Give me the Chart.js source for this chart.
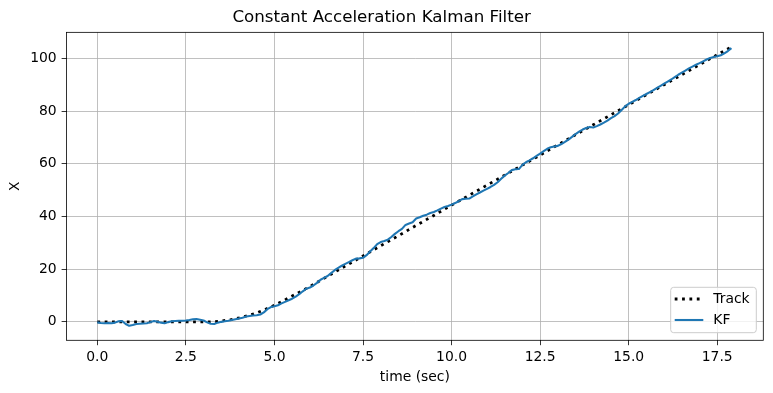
<!DOCTYPE html>
<html>
<head>
<meta charset="utf-8">
<script src="https://cdn.jsdelivr.net/npm/chart.js@4/dist/chart.umd.min.js"></script>
<style>
  html, body { margin: 0; padding: 0; background: #ffffff; }
  #wrap { width: 773px; height: 393px; position: relative; }
</style>
</head>
<body>
<div id="wrap"><canvas id="c" width="773" height="393"></canvas></div>
<script>
// ---- data ----
const titleText = 'Constant Acceleration Kalman Filter';
const xAxisLabel = 'time (sec)';
const yAxisLabel = 'X';
const seriesNames = ['Track', 'KF'];

const xTicks = [0, 2.5, 5, 7.5, 10, 12.5, 15, 17.5];
const yTicks = [0, 20, 40, 60, 80, 100];

const trackTime = [0, 0.5, 1, 1.5, 2, 2.5, 3, 3.25, 3.5, 3.75, 4, 4.25, 4.5, 4.75, 5, 5.25, 5.5, 5.75, 6,
  6.5, 7, 7.5, 8, 8.5, 9, 9.5, 10, 10.5, 11, 11.5, 12, 12.5, 13, 13.5, 14, 14.5, 15, 15.5, 16, 16.5, 17, 17.5, 17.9];
const trackX = [0, 0, 0, 0, 0, 0, 0, 0, 0.3, 0.8, 1.5, 2.4, 3.4, 4.8, 6.3, 8.0, 9.8, 11.6, 13.4,
  17.3, 21.2, 25.0, 28.9, 32.7, 36.6, 40.4, 44.3, 48.1, 51.9, 55.7, 59.5, 63.3, 67.2, 71.0, 74.8, 78.6, 82.4, 86.2, 90.0, 93.8, 97.6, 101.4, 104.4];

const kfTime = [
  0.0, 0.1, 0.2, 0.3, 0.4, 0.5, 0.6, 0.7, 0.8, 0.9,
  1.0, 1.1, 1.2, 1.3, 1.4, 1.5, 1.6, 1.7, 1.8, 1.9,
  2.0, 2.1, 2.2, 2.3, 2.4, 2.5, 2.6, 2.7, 2.8, 2.9,
  3.0, 3.1, 3.2, 3.3, 3.4, 3.5, 3.6, 3.7, 3.8, 3.9,
  4.0, 4.1, 4.2, 4.3, 4.4, 4.5, 4.6, 4.7, 4.8, 4.9,
  5.0, 5.1, 5.2, 5.3, 5.4, 5.5, 5.6, 5.7, 5.8, 5.9,
  6.0, 6.1, 6.2, 6.3, 6.4, 6.5, 6.6, 6.7, 6.8, 6.9,
  7.0, 7.1, 7.2, 7.3, 7.4, 7.5, 7.6, 7.7, 7.8, 7.9,
  8.0, 8.1, 8.2, 8.3, 8.4, 8.5, 8.6, 8.7, 8.8, 8.9,
  9.0, 9.1, 9.2, 9.3, 9.4, 9.5, 9.6, 9.7, 9.8, 9.9,
  10.0, 10.1, 10.2, 10.3, 10.4, 10.5, 10.6, 10.7, 10.8, 10.9,
  11.0, 11.1, 11.2, 11.3, 11.4, 11.5, 11.6, 11.7, 11.8, 11.9,
  12.0, 12.1, 12.2, 12.3, 12.4, 12.5, 12.6, 12.7, 12.8, 12.9,
  13.0, 13.1, 13.2, 13.3, 13.4, 13.5, 13.6, 13.7, 13.8, 13.9,
  14.0, 14.1, 14.2, 14.3, 14.4, 14.5, 14.6, 14.7, 14.8, 14.9,
  15.0, 15.1, 15.2, 15.3, 15.4, 15.5, 15.6, 15.7, 15.8, 15.9,
  16.0, 16.1, 16.2, 16.3, 16.4, 16.5, 16.6, 16.7, 16.8, 16.9,
  17.0, 17.1, 17.2, 17.3, 17.4, 17.5, 17.6, 17.7, 17.8, 17.9
];
const kfX = [
  -0.2, -0.4, -0.5, -0.4, -0.5, -0.3, 0.2, 0.3, -0.8, -1.5,
  -1.2, -0.8, -0.7, -0.6, -0.5, -0.1, 0.3, 0.0, -0.3, -0.5,
  -0.1, 0.2, 0.3, 0.4, 0.4, 0.5, 0.7, 1.0, 1.1, 0.8,
  0.5, -0.2, -0.7, -0.8, -0.3, 0.0, 0.2, 0.4, 0.7, 1.0,
  1.3, 1.6, 2.0, 2.2, 2.4, 2.5, 2.8, 3.6, 4.8, 5.6,
  5.9, 6.3, 7.0, 7.6, 8.2, 8.8, 9.6, 10.5, 11.6, 12.6,
  13.0, 13.8, 14.8, 16.0, 16.7, 17.4, 18.5, 19.6, 20.5, 21.3,
  22.0, 22.7, 23.4, 24.0, 24.1, 24.3, 25.3, 26.7, 28.0, 29.5,
  30.3, 30.7, 31.2, 32.2, 33.4, 34.4, 35.3, 36.8, 37.3, 37.8,
  39.2, 39.7, 40.3, 40.7, 41.3, 41.7, 42.3, 43.0, 43.6, 44.0,
  44.5, 45.1, 45.8, 46.6, 46.7, 46.8, 47.6, 48.4, 49.1, 49.8,
  50.5, 51.2, 52.0, 53.0, 54.3, 55.5, 56.5, 57.6, 57.9, 58.0,
  59.6, 60.6, 61.3, 62.1, 63.0, 63.9, 64.8, 65.7, 66.3, 66.6,
  66.8, 67.5, 68.3, 69.2, 70.2, 71.3, 72.2, 73.0, 73.6, 74.0,
  73.8, 74.3, 74.9, 75.6, 76.4, 77.3, 78.1, 79.1, 80.4, 81.8,
  82.8, 83.5, 84.2, 85.0, 85.8, 86.5, 87.2, 88.0, 88.8, 89.6,
  90.4, 91.2, 92.0, 92.9, 93.8, 94.6, 95.4, 96.2, 96.9, 97.6,
  98.2, 98.9, 99.6, 100.2, 100.5, 100.8, 101.2, 101.9, 102.8, 103.9
];

// ---- styling ----
const FONT = "'DejaVu Sans', 'Liberation Sans', sans-serif";
const TICK_PX = 13.9;
const TRACK_LW = 2.78;
const KF_LW = 2.08;
const KF_COLOR = '#1f77b4';

const frameLegendPlugin = {
  id: 'frameLegend',
  afterDraw(chart) {
    const ctx = chart.ctx;
    const a = chart.chartArea;
    ctx.save();
    // axes frame
    ctx.strokeStyle = '#000';
    ctx.lineWidth = 0.8;
    ctx.strokeRect(a.left, a.top, a.right - a.left, a.bottom - a.top);
    // legend box
    const bw = 85.6, bh = 45.4;
    const bx = a.right - 7 - bw, by = a.bottom - 7.6 - bh;
    const r = 3;
    ctx.beginPath();
    ctx.moveTo(bx + r, by);
    ctx.lineTo(bx + bw - r, by);
    ctx.quadraticCurveTo(bx + bw, by, bx + bw, by + r);
    ctx.lineTo(bx + bw, by + bh - r);
    ctx.quadraticCurveTo(bx + bw, by + bh, bx + bw - r, by + bh);
    ctx.lineTo(bx + r, by + bh);
    ctx.quadraticCurveTo(bx, by + bh, bx, by + bh - r);
    ctx.lineTo(bx, by + r);
    ctx.quadraticCurveTo(bx, by, bx + r, by);
    ctx.closePath();
    ctx.fillStyle = 'rgba(255,255,255,0.8)';
    ctx.fill();
    ctx.strokeStyle = '#cccccc';
    ctx.lineWidth = 1;
    ctx.stroke();
    const lx0 = bx + 4, lx1 = bx + 32.6, tx = bx + 42.6;
    const y1 = by + 11.7, y2 = by + 32.7;
    // Track sample
    ctx.beginPath();
    ctx.setLineDash([TRACK_LW, TRACK_LW * 1.65]);
    ctx.lineCap = 'butt';
    ctx.strokeStyle = '#000';
    ctx.lineWidth = TRACK_LW;
    ctx.moveTo(lx0, y1); ctx.lineTo(lx1, y1);
    ctx.stroke();
    ctx.setLineDash([]);
    // KF sample
    ctx.beginPath();
    ctx.strokeStyle = KF_COLOR;
    ctx.lineWidth = KF_LW;
    ctx.moveTo(lx0, y2); ctx.lineTo(lx1, y2);
    ctx.stroke();
    ctx.fillStyle = '#000';
    ctx.font = TICK_PX + 'px ' + FONT;
    ctx.textAlign = 'left';
    ctx.textBaseline = 'middle';
    ctx.fillText(seriesNames[0], tx, y1);
    ctx.fillText(seriesNames[1], tx, y2);
    ctx.restore();
  }
};

new Chart(document.getElementById('c'), {
  type: 'line',
  data: {
    datasets: [
      {
        label: seriesNames[0],
        data: trackTime.map((t, i) => ({ x: t, y: trackX[i] })),
        borderColor: '#000',
        borderWidth: TRACK_LW,
        borderDash: [TRACK_LW, TRACK_LW * 1.65],
        borderCapStyle: 'butt',
        pointRadius: 0,
        fill: false,
        tension: 0,
        order: 2
      },
      {
        label: seriesNames[1],
        data: kfTime.map((t, i) => ({ x: t, y: kfX[i] })),
        borderColor: KF_COLOR,
        borderWidth: KF_LW,
        pointRadius: 0,
        fill: false,
        tension: 0,
        borderJoinStyle: 'round',
        order: 1
      }
    ]
  },
  options: {
    responsive: false,
    animation: false,
    devicePixelRatio: 1,
    layout: { padding: { left: 0, right: 9.7, top: 0, bottom: 0 } },
    plugins: {
      legend: { display: false },
      tooltip: { enabled: false },
      title: {
        display: true,
        text: titleText,
        color: '#000',
        font: { family: FONT, size: 16.7, weight: 'normal', lineHeight: 1.2 },
        padding: { top: 8, bottom: 4.3 }
      }
    },
    scales: {
      x: {
        type: 'linear',
        min: -0.87,
        max: 18.8,
        afterBuildTicks: (s) => { s.ticks = xTicks.map(v => ({ value: v })); },
        afterFit: (s) => { s.height = 52.7; },
        ticks: {
          color: '#000',
          font: { family: FONT, size: TICK_PX },
          padding: 3.5,
          maxRotation: 0,
          autoSkip: false,
          callback: (v) => Number(v).toFixed(1)
        },
        grid: {
          color: '#b0b0b0',
          lineWidth: 0.8,
          tickColor: '#000',
          tickLength: 4.9,
          tickWidth: 0.8
        },
        border: { display: false },
        title: {
          display: true,
          text: xAxisLabel,
          color: '#000',
          font: { family: FONT, size: TICK_PX, lineHeight: 1.2 },
          padding: { top: 0, bottom: 7.7 }
        }
      },
      y: {
        type: 'linear',
        min: -7.0,
        max: 109.9,
        afterBuildTicks: (s) => { s.ticks = yTicks.map(v => ({ value: v })); },
        afterFit: (s) => { s.width = 66.5; },
        ticks: {
          color: '#000',
          font: { family: FONT, size: TICK_PX },
          padding: 4.9,
          autoSkip: false,
          callback: (v) => String(v)
        },
        grid: {
          color: '#b0b0b0',
          lineWidth: 0.8,
          tickColor: '#000',
          tickLength: 4.9,
          tickWidth: 0.8
        },
        border: { display: false },
        title: {
          display: true,
          text: yAxisLabel,
          color: '#000',
          font: { family: FONT, size: TICK_PX, lineHeight: 1.2 },
          padding: { top: 6.7, bottom: 0 }
        }
      }
    }
  },
  plugins: [frameLegendPlugin]
});
</script>
</body>
</html>
